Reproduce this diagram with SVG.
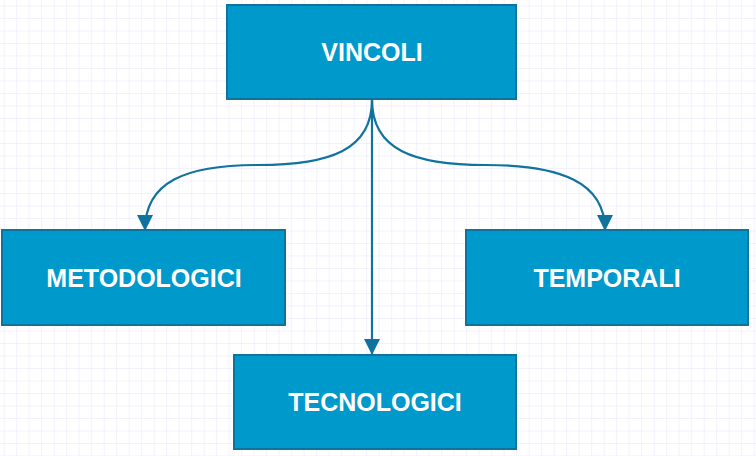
<svg xmlns="http://www.w3.org/2000/svg" width="756" height="456" viewBox="0 0 756 456">
  <defs>
    <pattern id="grid" x="3.7" y="5.5" width="12.5" height="12.5" patternUnits="userSpaceOnUse">
      <path d="M0,0 H12.5 M0,0 V12.5" fill="none" stroke="#e6e4fd" stroke-width="1"/>
    </pattern>
    <marker id="arrow" viewBox="0 0 16 16" refX="15" refY="8" markerWidth="16" markerHeight="16" markerUnits="userSpaceOnUse" orient="auto">
      <path d="M0,0 L16,8 L0,16 Z" fill="#10739e"/>
    </marker>
    <style>
      .box { fill: #0099cb; stroke: #10739e; stroke-width: 2; }
      .lbl { font-family: "Liberation Sans", Arial, sans-serif; font-weight: bold; font-size: 25px; fill: #ffffff; text-anchor: middle; }
      .conn { fill: none; stroke: #10739e; stroke-width: 2.2; marker-end: url(#arrow); }
    </style>
  </defs>
  <rect x="0" y="0" width="756" height="456" fill="#ffffff"/>
  <rect x="0" y="0" width="756" height="456" fill="url(#grid)"/>

  <g id="connectors">
    <path class="conn" d="M372,100 C372,150 330,165 258,165 C185,165 145,182 145,230"/>
    <path class="conn" d="M372,100 C372,150 414,165 486,165 C560,165 605,182 605,230"/>
    <path class="conn" d="M372,100 L372,354"/>
  </g>

  <g id="vincoli">
    <rect class="box" x="227" y="5" width="289" height="94"/>
    <text class="lbl" x="372" y="61">VINCOLI</text>
  </g>
  <g id="metodologici">
    <rect class="box" x="2" y="230" width="283" height="95"/>
    <text class="lbl" x="144" y="287">METODOLOGICI</text>
  </g>
  <g id="temporali">
    <rect class="box" x="466" y="230" width="282" height="95"/>
    <text class="lbl" x="607" y="287">TEMPORALI</text>
  </g>
  <g id="tecnologici">
    <rect class="box" x="234" y="355" width="282" height="94"/>
    <text class="lbl" x="375" y="411">TECNOLOGICI</text>
  </g>
</svg>
